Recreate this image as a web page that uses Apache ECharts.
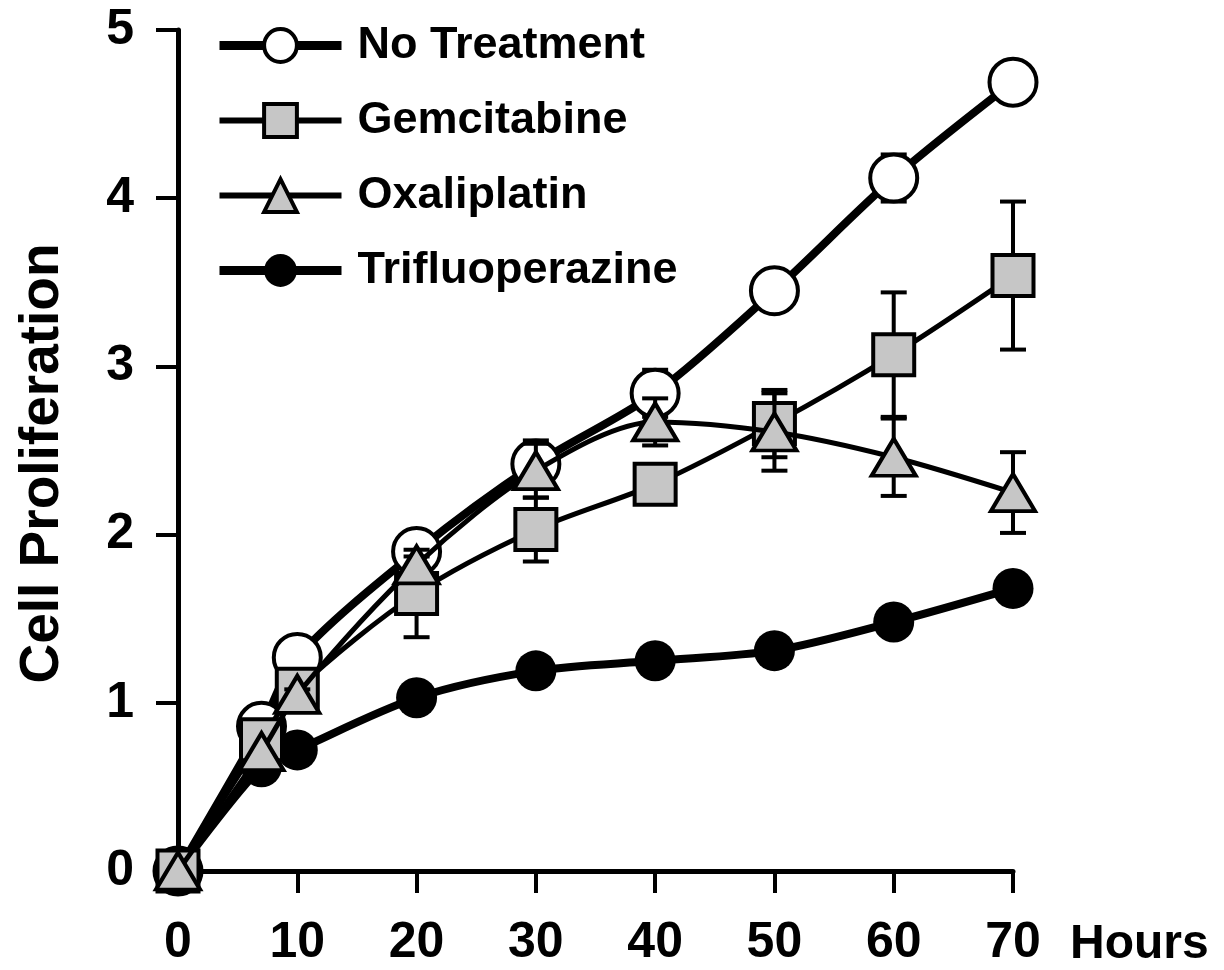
<!DOCTYPE html>
<html><head><meta charset="utf-8">
<script src="https://cdn.jsdelivr.net/npm/echarts@6/dist/echarts.min.js"></script>
<style>html,body{margin:0;padding:0;background:#fff}#c{width:1224px;height:970px}</style>
</head><body><div id="c"></div>
<script>
// ---- data ----
const hours = [0, 7, 10, 20, 30, 40, 50, 60, 70];
const seriesNames = ['No Treatment', 'Gemcitabine', 'Oxaliplatin', 'Trifluoperazine'];
const noTreatment     = [0, 0.86, 1.27, 1.90, 2.42, 2.84, 3.45, 4.12, 4.69];
const gemcitabine     = [0, 0.78, 1.08, 1.65, 2.03, 2.30, 2.66, 3.07, 3.54];
const oxaliplatin     = [0, 0.71, 1.05, 1.82, 2.38, 2.67, 2.61, 2.46, 2.25];
const trifluoperazine = [0, 0.62, 0.72, 1.03, 1.19, 1.25, 1.31, 1.48, 1.68];
const errNoTreatment     = [0, 0, 0, 0, 0.14, 0.14, 0.10, 0.14, 0.10];
const errGemcitabine     = [0, 0, 0.05, 0.26, 0.19, 0.05, 0.20, 0.37, 0.44];
const errOxaliplatin     = [0, 0, 0.03, 0.05, 0.16, 0.14, 0.23, 0.23, 0.24];
const errTrifluoperazine = [0, 0, 0, 0, 0, 0, 0, 0, 0];
const xTickLabels = ['0', '10', '20', '30', '40', '50', '60', '70'];
const yTickLabels = ['0', '1', '2', '3', '4', '5'];

const FONT = "'Liberation Sans', Arial, sans-serif";
const values = [noTreatment, gemcitabine, oxaliplatin, trifluoperazine];
const errors = [errNoTreatment, errGemcitabine, errOxaliplatin, errTrifluoperazine];
const styles = [
  {symbol: 'circle', size: 47, fill: '#ffffff', line: 8, border: 4, legendLine: 9, layer: 1},
  {symbol: 'rect', size: 41, fill: '#c6c6c6', line: 5, border: 4, legendLine: 6, layer: 2},
  {symbol: 'triangle', size: [44, 37], fill: '#c6c6c6', line: 5, border: 4, legendLine: 6, layer: 3},
  {symbol: 'circle', size: 41, fill: '#000000', line: 8, border: 0, legendLine: 9, layer: 0}
];

const series = [];
seriesNames.forEach((name, k) => {
  const st = styles[k];
  const errData = [];
  hours.forEach((h, i) => { if (errors[k][i] > 0) errData.push([h, values[k][i] - errors[k][i], values[k][i] + errors[k][i]]); });
  series.push({
    type: 'custom', name: 'err ' + name, z: 2 + st.layer * 2, silent: true,
    encode: {x: 0, y: [1, 2]},
    renderItem: function (params, api) {
      const x = api.value(0);
      const p1 = api.coord([x, api.value(2)]);
      const p2 = api.coord([x, api.value(1)]);
      const hw = 13;
      const s = {stroke: '#000', lineWidth: 4};
      return {type: 'group', children: [
        {type: 'line', shape: {x1: p1[0], y1: p1[1], x2: p2[0], y2: p2[1]}, style: s},
        {type: 'line', shape: {x1: p1[0] - hw, y1: p1[1], x2: p1[0] + hw, y2: p1[1]}, style: s},
        {type: 'line', shape: {x1: p2[0] - hw, y1: p2[1], x2: p2[0] + hw, y2: p2[1]}, style: s}
      ]};
    },
    data: errData
  });
  series.push({
    type: 'line', name: name, z: 3 + st.layer * 2, smooth: 0.3, clip: false,
    symbol: st.symbol, symbolSize: st.size, showAllSymbol: true,
    lineStyle: {color: '#000', width: st.line},
    itemStyle: {color: st.fill, borderColor: '#000', borderWidth: st.border},
    data: hours.map((h, i) => [h, values[k][i]])
  });
});

const chart = echarts.init(document.getElementById('c'), null, {renderer: 'canvas'});
chart.setOption({
  animation: false,
  backgroundColor: '#fff',
  grid: {left: 178, right: 211, top: 30, bottom: 99, containLabel: false, outerBoundsMode: 'none'},
  legend: {
    orient: 'vertical', left: 210, top: 18,
    itemWidth: 122, itemHeight: 41, itemGap: 30, selectedMode: false,
    textStyle: {fontSize: 45, fontWeight: 'bold', color: '#000', fontFamily: FONT, lineHeight: 41, padding: [0, 0, 0, 11]},
    data: seriesNames.map((n, k) => ({
      name: n,
      lineStyle: {width: styles[k].legendLine, color: '#000'},
      itemStyle: {borderWidth: styles[k].border, borderColor: '#000', color: styles[k].fill}
    }))
  },
  xAxis: {
    type: 'value', min: 0, max: 70, interval: 10,
    axisLine: {show: true, onZero: false, lineStyle: {color: '#000', width: 5}},
    axisTick: {show: true, inside: false, length: 22, lineStyle: {color: '#000', width: 4}},
    splitLine: {show: false},
    axisLabel: {margin: 47, fontSize: 50, fontWeight: 'bold', color: '#000', fontFamily: FONT,
      formatter: v => xTickLabels[Math.round(v / 10)]},
    name: 'Hours', nameLocation: 'end', nameGap: 57,
    nameTextStyle: {fontSize: 48, fontWeight: 'bold', color: '#000', fontFamily: FONT, verticalAlign: 'top', align: 'left', padding: [50, 0, 0, 0]}
  },
  yAxis: {
    type: 'value', min: 0, max: 5, interval: 1,
    axisLine: {show: true, onZero: false, lineStyle: {color: '#000', width: 5}},
    axisTick: {show: true, inside: false, length: 22, lineStyle: {color: '#000', width: 4}},
    splitLine: {show: false},
    axisLabel: {margin: 44, fontSize: 50, fontWeight: 'bold', color: '#000', fontFamily: FONT,
      formatter: v => yTickLabels[Math.round(v)]},
    name: 'Cell Proliferation', nameLocation: 'middle', nameGap: 108,
    nameTextStyle: {fontSize: 55, fontWeight: 'bold', color: '#000', fontFamily: FONT, padding: [0, 26, 0, 0]}
  },
  series: series
});
</script></body></html>
